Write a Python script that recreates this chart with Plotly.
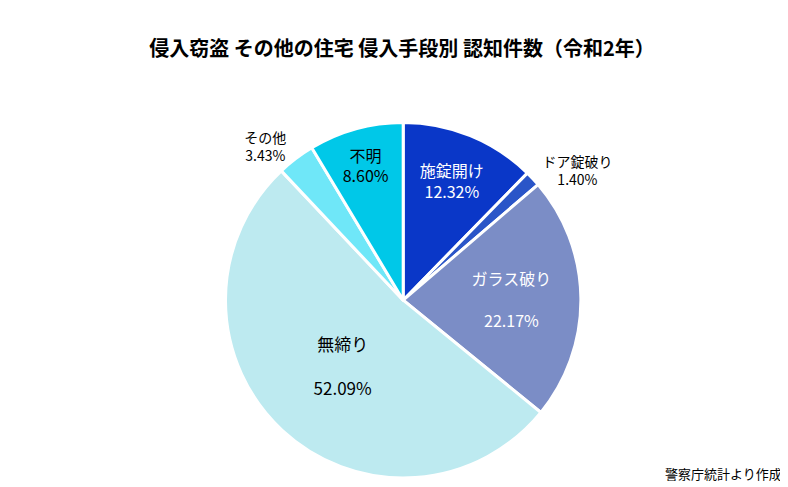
import plotly.graph_objects as go

labels = ["施錠開け", "ドア錠破り", "ガラス破り", "無締り", "その他", "不明"]
values = [12.32, 1.40, 22.17, 52.09, 3.43, 8.60]
colors = ["#0a37c8", "#2a55c8", "#7b8dc6", "#bdeaf0", "#6fe7f8", "#00c8e8"]
text_colors = ["white", "black", "white", "black", "black", "black"]
positions = ["inside", "outside", "inside", "inside", "outside", "inside"]
sizes = [16, 14, 16, 17, 14, 16]

fig = go.Figure(go.Pie(
    labels=labels, values=values, sort=False, direction="clockwise", rotation=0,
    marker=dict(colors=colors, line=dict(color="white", width=3)),
    texttemplate=["%{label}<br>%{value:.2f}%", "%{label}<br>%{value:.2f}%",
                  "%{label}<br><br>%{value:.2f}%", "%{label}<br><br>%{value:.2f}%",
                  "%{label}<br>%{value:.2f}%", "%{label}<br>%{value:.2f}%"],
    textposition=positions, insidetextorientation="horizontal",
    textfont=dict(color=text_colors, size=sizes, family="Noto Sans CJK JP"),
    outsidetextfont=dict(color="black", size=14, family="Noto Sans CJK JP"),
    showlegend=False, hoverinfo="skip",
    domain=dict(x=[0.276, 0.727], y=[0.035, 0.765]),
))
fig.update_layout(
    width=788, height=487, margin=dict(l=0, r=0, t=0, b=0),
    paper_bgcolor="white", plot_bgcolor="white",
    font=dict(family="Noto Sans CJK JP", color="black"),
    title=dict(text="<b>侵入窃盗 その他の住宅 侵入手段別 認知件数（令和2年）</b>",
               x=0.5, y=0.915, xanchor="center", yanchor="middle",
               font=dict(size=20, family="Noto Sans CJK JP")),
    annotations=[dict(text="警察庁統計より作成", x=0.985, y=0.045, xref="paper", yref="paper",
                      xanchor="right", yanchor="middle", showarrow=False,
                      font=dict(size=13, family="Noto Sans CJK JP"))],
)
fig.write_html("out.html")
